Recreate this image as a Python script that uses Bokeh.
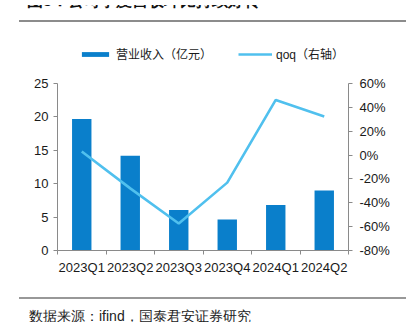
from bokeh.plotting import figure
from bokeh.models import (ColumnDataSource, Range1d, LinearAxis, FixedTicker,
                          PrintfTickFormatter, Legend, LegendItem, Div, GridBox)
from bokeh.embed import file_html
from bokeh.resources import INLINE

categories = ["2023Q1", "2023Q2", "2023Q3", "2023Q4", "2024Q1", "2024Q2"]
revenue = [19.7, 14.2, 6.05, 4.65, 6.8, 9.0]          # 营业收入（亿元）
qoq = [3.0, -27.9, -57.4, -23.1, 46.2, 32.4]          # qoq %（右轴）
left_ticks = [0, 5, 10, 15, 20, 25]
right_ticks = [-80, -60, -40, -20, 0, 20, 40, 60]

title_text = "图5：公司季度营收环比持续好转"
legend_bar = "营业收入（亿元）"
legend_line = "qoq（右轴）"
source_text = "数据来源：ifind，国泰君安证券研究"

BAR = "#0a7fcb"
LINE = "#50c0ee"
AXIS = "#8a8a8a"
LAT = "Liberation Sans, Noto Sans CJK SC"
CJK = "Noto Sans CJK SC"
W, H = 406, 322
FL, FR, FB = 57, 348, 250     # frame left/right/bottom (canvas px)
AXIS_TOP = 83                 # where the value axes end
FT = 40                       # frame top (room for the legend inside it)
DY = -3                       # vertical correction for the backdrop Div

# extend the ranges above the axes so the legend sits inside the frame
scale = (FB - FT) / (FB - AXIS_TOP)
l_lo, l_hi = left_ticks[0], left_ticks[-1]
r_lo, r_hi = right_ticks[0], right_ticks[-1]

xs = [i + 0.5 for i in range(len(categories))]
src = ColumnDataSource(dict(x=xs, rev=revenue, qoq=qoq))

p = figure(width=W, height=H, output_backend="svg", toolbar_location=None,
           x_range=Range1d(0, len(categories)),
           y_range=Range1d(l_lo, l_lo + (l_hi - l_lo) * scale),
           min_border_left=FL, min_border_right=W - FR, min_border_top=FT,
           min_border_bottom=H - FB)
p.outline_line_color = None
p.background_fill_color = None
p.border_fill_color = None
p.xgrid.visible = False
p.ygrid.visible = False
p.extra_y_ranges = {"qoq": Range1d(r_lo, r_lo + (r_hi - r_lo) * scale)}

bars = p.vbar(x="x", top="rev", width=0.4, source=src, fill_color=BAR, line_color=None)
ln = p.line(x="x", y="qoq", source=src, y_range_name="qoq", line_color=LINE, line_width=2.6)

xa = p.xaxis[0]
xa.ticker = FixedTicker(ticks=xs, minor_ticks=list(range(len(categories) + 1)))
xa.major_label_overrides = {x: c for x, c in zip(xs, categories)}
xa.major_tick_out = 0
xa.major_tick_in = 0
xa.minor_tick_out = 4
xa.minor_tick_in = 0
xa.minor_tick_line_color = AXIS
xa.axis_line_color = AXIS
xa.major_label_standoff = 5

ya = p.yaxis[0]
ya.ticker = FixedTicker(ticks=left_ticks)
ya.bounds = (l_lo, l_hi)
ya.major_tick_out = 4
ya.major_tick_in = 0
ya.minor_tick_line_color = None
ya.major_tick_line_color = AXIS
ya.axis_line_color = AXIS
ya.major_label_standoff = 5

ra = LinearAxis(y_range_name="qoq", ticker=FixedTicker(ticks=right_ticks),
                formatter=PrintfTickFormatter(format="%d%%"), bounds=(r_lo, r_hi))
ra.major_tick_out = 4
ra.major_tick_in = 0
ra.minor_tick_line_color = None
ra.major_tick_line_color = AXIS
ra.axis_line_color = AXIS
ra.major_label_standoff = 7
p.add_layout(ra, "right")

for ax in (xa, ya, ra):
    ax.major_label_text_font = LAT
    ax.major_label_text_font_size = "13px"
    ax.major_label_text_color = "#1a1a1a"

legend = Legend(items=[LegendItem(label=legend_bar, renderers=[bars]),
                       LegendItem(label=legend_line, renderers=[ln])],
                location=(21, 188), orientation="horizontal",
                glyph_width=34, glyph_height=6, label_height=16,
                label_standoff=4, spacing=26, padding=0, margin=0,
                border_line_color=None, background_fill_alpha=0,
                label_text_font=LAT, label_text_font_size="12px",
                label_text_color="#1a1a1a")
p.add_layout(legend, "center")

# page furniture behind the chart: cropped caption, rules and source note
svg = (
    f'<svg xmlns="http://www.w3.org/2000/svg" width="{W}" height="{H}" '
    f'style="position:absolute;left:0;top:0;display:block;overflow:hidden">'
    f'<text x="22" y="{3.5 + DY}" font-family="{CJK}" font-size="16" font-weight="bold" '
    f'fill="#111">{title_text}</text>'
    f'<line x1="14" y1="{19 + DY}" x2="{W}" y2="{19 + DY}" stroke="#8c8c8c" stroke-width="2"/>'
    f'<line x1="14" y1="{296 + DY}" x2="{W}" y2="{296 + DY}" stroke="#333" stroke-width="1.2"/>'
    f'<text x="24" y="{318.5 + DY}" font-family="{CJK}" font-size="14" fill="#222">{source_text}</text>'
    f'</svg>'
)
bg = Div(text=svg, width=W, height=H, styles={"position": "relative"})

layout = GridBox(children=[(bg, 0, 0), (p, 0, 0)], width=W, height=H)
open("out.html", "w").write(file_html(layout, INLINE))
